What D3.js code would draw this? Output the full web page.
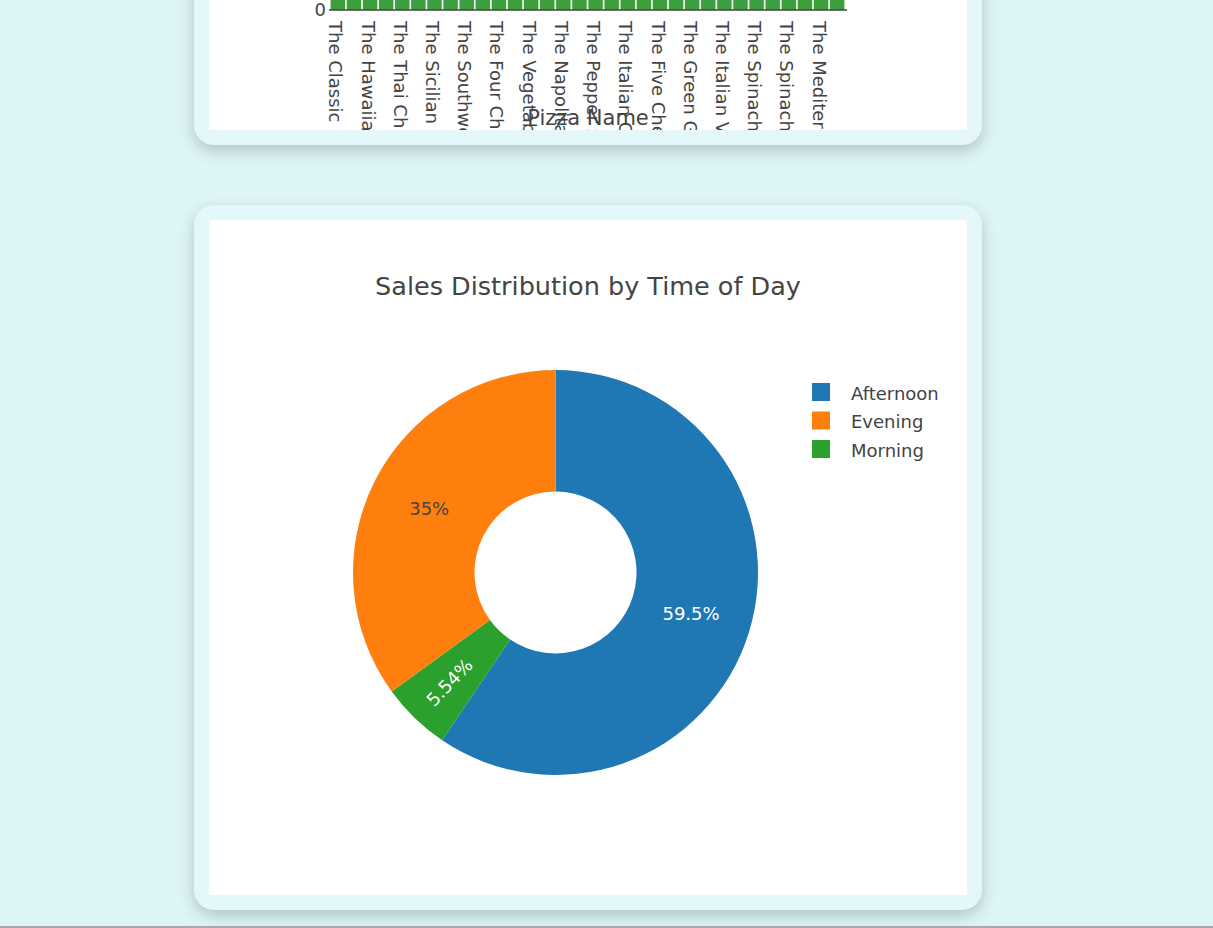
<!DOCTYPE html>
<html>
<head>
<meta charset="utf-8">
<script src="https://cdn.jsdelivr.net/npm/d3@7"></script>
<style>
  html, body {
    margin: 0;
    padding: 0;
    width: 1213px;
    height: 928px;
    overflow: hidden;
    background: #def5f8;
    font-family: "DejaVu Sans", Verdana, sans-serif;
  }
  .card {
    position: absolute;
    left: 194px;
    width: 758px;
    height: 675px;
    padding: 15px;
    background: #e4f8fb;
    border-radius: 20px;
    box-shadow: 0 6px 16px rgba(0, 0, 0, 0.2);
  }
  .card svg { display: block; background: #fff; }
  #bottom-edge {
    position: fixed;
    left: 0;
    bottom: 0;
    width: 100%;
    height: 2px;
    background: #a8a8a8;
  }
</style>
</head>
<body>
<div class="card" style="top:-560px"><svg id="bar-chart" width="758" height="675"></svg></div>
<div class="card" style="top:205px"><svg id="pie-chart" width="758" height="675"></svg></div>
<div id="bottom-edge"></div>

<script>
// quantity sold per pizza, sorted high to low
const pizzaNames = [
  "The Classic Deluxe Pizza", "The Barbecue Chicken Pizza", "The Hawaiian Pizza",
  "The Pepperoni Pizza", "The Thai Chicken Pizza", "The California Chicken Pizza",
  "The Sicilian Pizza", "The Spicy Italian Pizza", "The Southwest Chicken Pizza",
  "The Big Meat Pizza", "The Four Cheese Pizza", "The Italian Supreme Pizza",
  "The Vegetables + Vegetables Pizza", "The Mexicana Pizza", "The Napolitana Pizza",
  "The Prosciutto and Arugula Pizza", "The Pepper Salami Pizza", "The Spinach and Feta Pizza",
  "The Italian Capocollo Pizza", "The Greek Pizza", "The Five Cheese Pizza",
  "The Pepperoni, Mushroom, and Peppers Pizza", "The Green Garden Pizza", "The Chicken Alfredo Pizza",
  "The Italian Vegetables Pizza", "The Chicken Pesto Pizza", "The Spinach Pesto Pizza",
  "The Soppressata Pizza", "The Spinach Supreme Pizza", "The Calabrese Pizza",
  "The Mediterranean Pizza", "The Brie Carre Pizza"
];
const quantities = [
  2453, 2432, 2422, 2418, 2371, 2370, 1938, 1924, 1917, 1914, 1902, 1884,
  1526, 1484, 1464, 1457, 1446, 1446, 1438, 1420, 1409, 1359, 997, 987,
  981, 973, 970, 961, 950, 937, 934, 490
];

// orders per time of day
const timeSlots = ["Afternoon", "Evening", "Morning"];
const orderCounts = [12694, 7473, 1183];
const sliceColors = ["#1f77b4", "#ff7f0e", "#2ca02c"];
// order the slices go round the ring, clockwise from 12 o'clock
const pieOrder = ["Afternoon", "Morning", "Evening"];

const TEXT = "#444";
const W = 758, H = 675;
const margin = {l: 120, r: 120, t: 150, b: 120};

drawBars();
drawDonut();

function drawBars() {
  const svg = d3.select("#bar-chart");
  const x = d3.scaleBand()
    .domain(pizzaNames)
    .range([margin.l, W - margin.r - 1])
    .padding(0.1);
  const y = d3.scaleLinear()
    .domain([0, d3.max(quantities) * 1.053])
    .range([H - margin.b, margin.t]);

  const data = pizzaNames.map((name, i) => ({name, qty: quantities[i]}));

  svg.append("g")
    .selectAll("rect")
    .data(data)
    .join("rect")
    .attr("x", d => x(d.name))
    .attr("width", x.bandwidth())
    .attr("y", d => y(d.qty))
    .attr("height", d => y(0) - y(d.qty))
    .attr("fill", "#3c9f3c");

  svg.append("line")
    .attr("x1", margin.l).attr("x2", W - margin.r)
    .attr("y1", y(0)).attr("y2", y(0))
    .attr("stroke", TEXT)
    .attr("stroke-width", 1.5);

  // only the baseline tick is in view, the rest sit above the fold
  svg.append("text")
    .attr("x", margin.l - 3)
    .attr("y", y(0))
    .attr("dy", "0.35em")
    .attr("text-anchor", "end")
    .style("font-size", "18px")
    .style("fill", TEXT)
    .text(y.ticks(5)[0]);

  // plotly skips every other label when they crowd
  svg.append("g")
    .selectAll("text")
    .data(data.filter((_, i) => i % 2 === 0))
    .join("text")
    .attr("transform", d => `translate(${x(d.name) + x.bandwidth() / 2},${y(0) + 11}) rotate(90)`)
    .attr("dy", "0.47em")
    .style("font-size", "18px")
    .style("fill", TEXT)
    .text(d => d.name);

  svg.append("text")
    .attr("x", (margin.l + W - margin.r) / 2)
    .attr("y", H - 5)
    .attr("text-anchor", "middle")
    .style("font-size", "21px")
    .style("fill", TEXT)
    .text("Pizza Name");
}

function drawDonut() {
  const svg = d3.select("#pie-chart");
  const plotH = H - margin.t - margin.b;
  const rOut = plotH / 2;
  const rIn = rOut * 0.4;
  const cx = margin.l + rOut + 24;
  const cy = margin.t + plotH / 2;

  svg.append("text")
    .attr("x", W / 2)
    .attr("y", 75)
    .attr("text-anchor", "middle")
    .style("font-size", "25.5px")
    .style("fill", TEXT)
    .text("Sales Distribution by Time of Day");

  const total = d3.sum(orderCounts);
  const slices = pieOrder.map(name => {
    const i = timeSlots.indexOf(name);
    return {name, count: orderCounts[i], color: sliceColors[i]};
  });

  const pie = d3.pie().sort(null).value(d => d.count);
  const arc = d3.arc().innerRadius(rIn).outerRadius(rOut);
  const fmt = d3.format(".3~p");

  const g = svg.append("g").attr("transform", `translate(${cx},${cy})`);

  g.selectAll(".sector")
    .data(pie(slices))
    .join("path")
    .classed("sector", true)
    .attr("d", arc)
    .attr("fill", d => d.data.color);

  g.selectAll(".slice-label")
    .data(pie(slices))
    .join("text")
    .classed("slice-label", true)
    .attr("transform", d => {
      const mid = (d.startAngle + d.endAngle) / 2;
      const narrow = d.endAngle - d.startAngle < 0.5;
      const r = (rIn + rOut) / 2 + (narrow ? 11 : 0);
      const px = r * Math.sin(mid), py = -r * Math.cos(mid);
      if (!narrow) return `translate(${px},${py})`;
      let rot = mid * 180 / Math.PI - 90;
      if (rot > 90) rot -= 180;
      return `translate(${px},${py}) rotate(${rot})`;
    })
    .attr("dy", "0.36em")
    .attr("text-anchor", "middle")
    .style("font-size", "18px")
    .style("fill", d => d3.hsl(d.data.color).l > 0.5 ? TEXT : "#fff")
    .text(d => fmt(d.data.count / total));

  const legend = svg.append("g")
    .attr("transform", `translate(${W - margin.r - 35},${margin.t + 22})`);
  const rows = legend.selectAll("g")
    .data(timeSlots)
    .join("g")
    .attr("transform", (_, i) => `translate(0,${i * 28.5})`);
  rows.append("rect")
    .attr("x", 0).attr("y", -9)
    .attr("width", 18).attr("height", 18)
    .attr("fill", (_, i) => sliceColors[i]);
  rows.append("text")
    .attr("x", 39)
    .attr("y", 7.5)
    .style("font-size", "18px")
    .style("fill", TEXT)
    .text(d => d);
}
</script>
</body>
</html>
